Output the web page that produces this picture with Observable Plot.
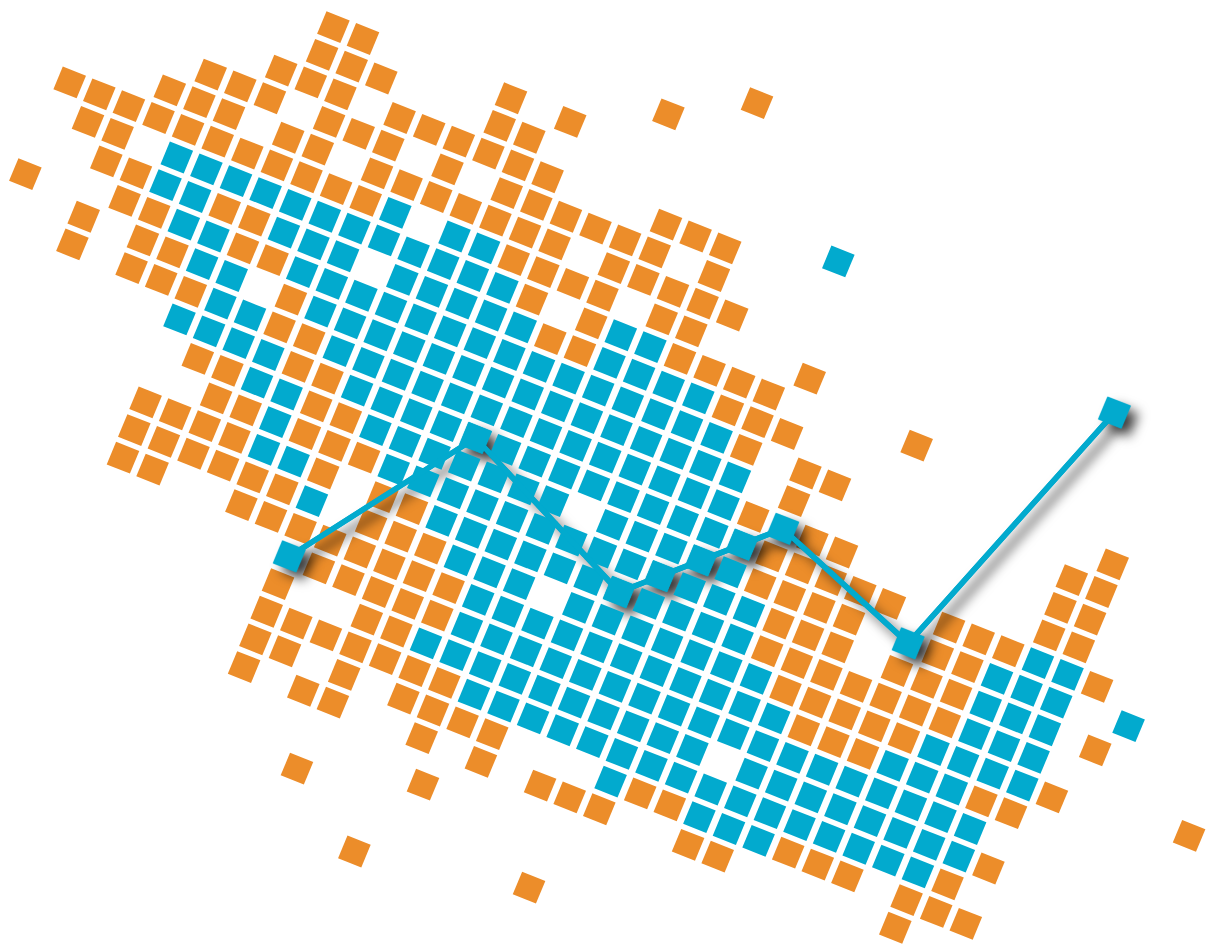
<!DOCTYPE html>
<html>
<head>
<meta charset="utf-8">
<script src="https://cdn.jsdelivr.net/npm/d3@7"></script>
<script src="https://cdn.jsdelivr.net/npm/@observablehq/plot@0.6"></script>
<style>
  html, body { margin: 0; padding: 0; background: #fff; overflow: hidden; }
</style>
</head>
<body>
<div id="chart"></div>
<script>
// Occupied cells of the tilted grid: row number, then the columns filled in that row.
const orangeRows = [
  [-6, "3 4 9 11"],
  [-5, "3..5 9 10"],
  [-4, "2..4 6..11 15..17"],
  [-3, "0..2 4..6 8 10..15 17"],
  [-2, "-1..1 3 4 6..12 14..18"],
  [-1, "-4..6 11..14 16 17 21"],
  [0, "-3 -2 12 14 17..20"],
  [1, "-2 -1 2 3 13 14 19..21 32"],
  [2, "-1 0 3 4 20 22 23 31 32"],
  [3, "-2 0 1 5 22 31 32"],
  [4, "-2 0..2 5 6 21 23 24 31 32"],
  [5, "6 7 22..26 28..30 33"],
  [6, "3 4 7 8 22..25 28 29"],
  [7, "4 5 7..9 23..25 27..29"],
  [8, "2..5 8 10 11 23..29"],
  [9, "2..7 10..12 24..28 33"],
  [10, "2 3 6..13 25..27 31 32"],
  [11, "9..13"],
  [12, "8 11 12 32"],
  [13, "8..14 31"],
  [14, "8 9 11 13..16 21 22 26..28 30..32"],
  [15, "8 10 11 14 16 18..20 23 24 30"]
];
const blueRows = [
  [-1, "7 9 10"],
  [0, "0..11 15 16"],
  [1, "0 1 4..6 8..12 15..18"],
  [2, "1 2 5..19"],
  [3, "2 3 6..20"],
  [4, "3 4 7..20"],
  [5, "2..5 8..21 31 32"],
  [6, "5 6 9..15 17..21 30..32"],
  [7, "6 10..22 30..32"],
  [8, "6 7 12..22 30..32"],
  [9, "8 13..15 17..23 29..32"],
  [10, "14..24 28..30"],
  [11, "14..31"],
  [12, "13..22 24..31"],
  [13, "15..30"],
  [14, "20 23..25"]
];
// Squares that sit between the grid lines: [column, row].
const orangeStray = [[-4.2,2.4],[13.76,-7.46],[16.2,-8.91],[24.9,-0.25],[33.7,7],[37.44,8.49],[10.74,17.5],[14.59,16.43],[13.39,19.36],[18.89,18.31]];
const blueStray = [[20.44,-5],[34.38,5.83]];
// The highlighted path: [column, row].
const pathPoints = [[8,11],[12,5],[18,8],[19,7],[20,6],[21,5],[22,4],[27,6],[30.25,-3.74]];

const orange = "#ec8d2a", blue = "#02aace";

function expand(rows, stray) {
  const out = [];
  for (const [row, spec] of rows) {
    for (const part of spec.split(" ")) {
      const [a, b] = part.split("..").map(Number);
      for (let c = a; c <= (b === undefined ? a : b); c++) out.push([c, row]);
    }
  }
  return out.concat(stray);
}
const px = d => 176.3 + 29.6 * d[0] - 11.3 * d[1];
const py = d => 157 + 11.85 * d[0] + 27.65 * d[1];
// A tilted square as a symbol, with the edge vectors of the picture's tiles.
const tile = {
  draw(ctx) {
    const ax = 11.6, ay = 4.6, bx = -4.7, by = 11.3;
    ctx.moveTo(-ax - bx, -ay - by);
    ctx.lineTo(ax - bx, ay - by);
    ctx.lineTo(ax + bx, ay + by);
    ctx.lineTo(-ax + bx, -ay + by);
    ctx.closePath();
  }
};
const cells = {symbol: tile, r: 13.8, x: px, y: py};

const plot = Plot.plot({
  width: 1209, height: 945,
  margin: 0,
  x: {domain: [0, 1209], range: [0, 1209], axis: null},
  y: {domain: [0, 945], range: [0, 945], axis: null},
  marks: [
    Plot.dot(expand(orangeRows, orangeStray), {...cells, fill: orange}),
    Plot.line(pathPoints, {x: px, y: py, stroke: blue, strokeWidth: 5.5}),
    Plot.dot(pathPoints, {...cells, fill: blue}),
    Plot.dot(expand(blueRows, blueStray), {...cells, fill: blue}),
    Plot.line(pathPoints, {x: px, y: py, stroke: blue, strokeWidth: 5.5}),
    Plot.dot(pathPoints, {...cells, fill: blue})
  ]
});
// The path's first two layers carry the drop shadow; the blue tiles lie over it.
const layers = plot.querySelectorAll(":scope > g");
for (const g of [layers[1], layers[2]]) g.style.filter = "drop-shadow(8px 8px 6px rgba(0,0,0,.7))";
document.getElementById("chart").appendChild(plot);
</script>
</body>
</html>
